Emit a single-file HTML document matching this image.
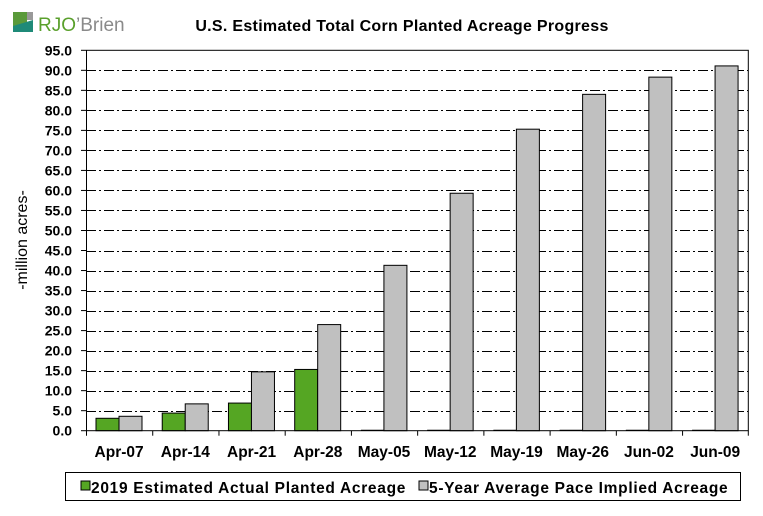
<!DOCTYPE html>
<html><head><meta charset="utf-8"><style>body{margin:0;background:#fff}svg{display:block}text{font-family:"Liberation Sans",Arial,sans-serif}</style></head>
<body>
<svg width="763" height="516" viewBox="0 0 763 516" xmlns="http://www.w3.org/2000/svg">
<rect width="763" height="516" fill="#fff"/>
<rect x="13" y="12" width="14" height="14" fill="#5a9a3a"/>
<rect x="27" y="12" width="6" height="8" fill="#999"/>
<polygon points="13,26 33,20 33,32 13,32" fill="#1f8a78"/>
<text x="38" y="31" font-size="19" fill="#5aa02c">RJO</text>
<text x="76" y="31" font-size="19" fill="#8a8a8a">’Brien</text>
<text x="402" y="31" font-size="16" font-weight="bold" letter-spacing="0.3" text-anchor="middle" fill="#000">U.S. Estimated Total Corn Planted Acreage Progress</text>
<g id="grid" stroke="#000" stroke-width="1" stroke-dasharray="10,3,2,3">
</g>
<script>
(function(){
var svg=document.querySelector('svg');var ns='http://www.w3.org/2000/svg';
var x0=86,x1=748.3,yb=430.7,yt=50.3,s=(yb-yt)/95;
function el(n,a,p){var e=document.createElementNS(ns,n);for(var k in a)e.setAttribute(k,a[k]);(p||svg).appendChild(e);return e;}
var g=document.getElementById('grid');
for(var v=5;v<=90;v+=5){var y=Math.round(yb-v*s)+0.5;el('line',{x1:x0,x2:x1,y1:y,y2:y},g);}
var gr=[3.1,4.4,6.9,15.3,0,0,0,0,0,0];
var gy=[3.6,6.7,14.7,26.5,41.3,59.3,75.3,84.0,88.3,91.1];
var labs=['Apr-07','Apr-14','Apr-21','Apr-28','May-05','May-12','May-19','May-26','Jun-02','Jun-09'];
var w=(x1-x0)/10;
for(var i=0;i<10;i++){var cx=x0+i*w;
 if(gr[i]>0)el('rect',{x:cx+10,y:yb-gr[i]*s,width:23,height:gr[i]*s,fill:'#55a623',stroke:'#000','stroke-width':1});
 else el('line',{x1:cx+10,x2:cx+33,y1:yb-0.5,y2:yb-0.5,stroke:'#000'});
 el('rect',{x:cx+33,y:yb-gy[i]*s,width:23,height:gy[i]*s,fill:'#c0c0c0',stroke:'#000','stroke-width':1});
 var t=el('text',{x:cx+w/2,y:457,'font-size':15.5,'font-weight':'bold','text-anchor':'middle'});t.textContent=labs[i];
 el('line',{x1:cx+0.5,x2:cx+0.5,y1:yb,y2:yb+5,stroke:'#000'});
}
el('line',{x1:x1,x2:x1,y1:yb,y2:yb+5,stroke:'#000'});
el('rect',{x:x0+0.5,y:yt,width:x1-x0-0.5,height:yb-yt,fill:'none',stroke:'#000','stroke-width':1});
for(var v=0;v<=95;v+=5){var y=yb-v*s;el('line',{x1:x0-5,x2:x0,y1:y,y2:y,stroke:'#000'});
 var t=el('text',{x:x0-14,y:y+5,'font-size':14,'font-weight':'bold','text-anchor':'end'});t.textContent=v.toFixed(1);}
})();
</script>
<text transform="translate(27,240) rotate(-90)" font-size="16" text-anchor="middle">-million acres-</text>
<rect x="65.5" y="472.5" width="675" height="28" fill="none" stroke="#000"/>
<rect x="81" y="481" width="9" height="9" fill="#55a623" stroke="#000"/>
<text x="91" y="493" font-size="15.5" font-weight="bold" letter-spacing="0.7">2019 Estimated Actual Planted Acreage</text>
<rect x="419" y="481" width="9" height="9" fill="#c0c0c0" stroke="#000"/>
<text x="429" y="493" font-size="15.5" font-weight="bold" letter-spacing="0.7">5-Year Average Pace Implied Acreage</text>
</svg>
</body></html>
